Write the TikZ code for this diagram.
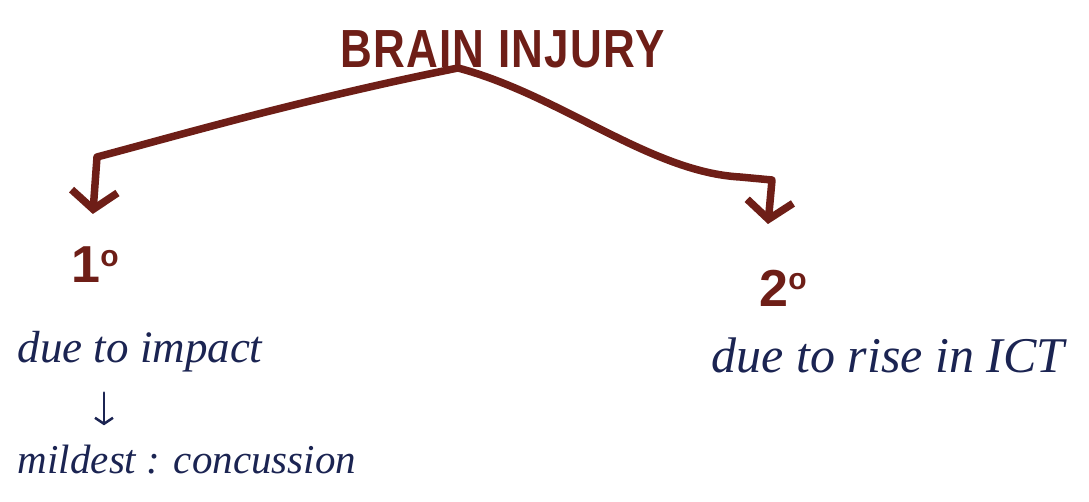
\documentclass[tikz,border=0pt]{standalone}
\usepackage{fontspec}
\setmainfont{Liberation Serif}
\setsansfont{Liberation Sans}
\usetikzlibrary{arrows.meta}
\definecolor{inkbrown}{HTML}{6E1E17}
\definecolor{inkblue}{HTML}{1B2452}
\newcommand{\ordsup}{\raisebox{0.32em}{\fontsize{30}{30}\selectfont o}}
\tikzset{
  brownline/.style={draw=inkbrown, line width=7.5pt, line cap=round, line join=round},
  brownarrow/.style={brownline, -{Straight Barb[length=18pt,width=46pt,line width=7.5pt]}},
  bluearrow/.style={draw=inkblue, line width=2.5pt, line cap=round, -{Straight Barb[length=6pt,width=18pt,line width=2.5pt]}},
  title/.style={text=inkbrown, font=\sffamily\fontsize{44}{50}\selectfont\addfontfeature{LetterSpace=3}, inner sep=0pt},
  ordinal/.style={text=inkbrown, font=\sffamily\bfseries\fontsize{52}{56}\selectfont, inner sep=0pt},
  note/.style={text=inkblue, font=\itshape\fontsize{40}{46}\selectfont, inner sep=0pt},
}
\begin{document}
\begin{tikzpicture}[x=1pt,y=-1pt]
\useasboundingbox (0,0) rectangle (1089,502);
\fill[white] (0,0) rectangle (1089,502);
% nodes
\node[title] (top) at (503,49) {\scalebox{1}[1.22]{\textbf{BRAIN INJURY}}};
\coordinate (fork) at (458,68);
\coordinate (bendL) at (97,157);
\coordinate (bendR) at (772,180);
\node[ordinal] (n1) at (95,265) {1\ordsup};
\node[ordinal] (n2) at (783,288) {2\ordsup};
\node[note, font=\itshape\fontsize{45}{48}\selectfont] (i1) at (140,352) {due to impact};
\node[note, font=\itshape\fontsize{41}{46}\selectfont] (m1) at (187,460) {mildest : concussion};
\node[note, font=\itshape\fontsize{50}{54}\selectfont] (i2) at (888,355) {due to rise in ICT};
% connectors
\draw[brownarrow, shorten >=-2pt] (fork) .. controls (300,100) and (180,135) .. (bendL) -- (93,212);
\draw[brownarrow] (fork) .. controls (560,95) and (650,172) .. (740,177) -- (bendR) -- (768,224);
\draw[bluearrow] ([xshift=-36pt,yshift=-20pt]i1.south) -- ([xshift=-83pt,yshift=20pt]m1.north);
\end{tikzpicture}
\end{document}
